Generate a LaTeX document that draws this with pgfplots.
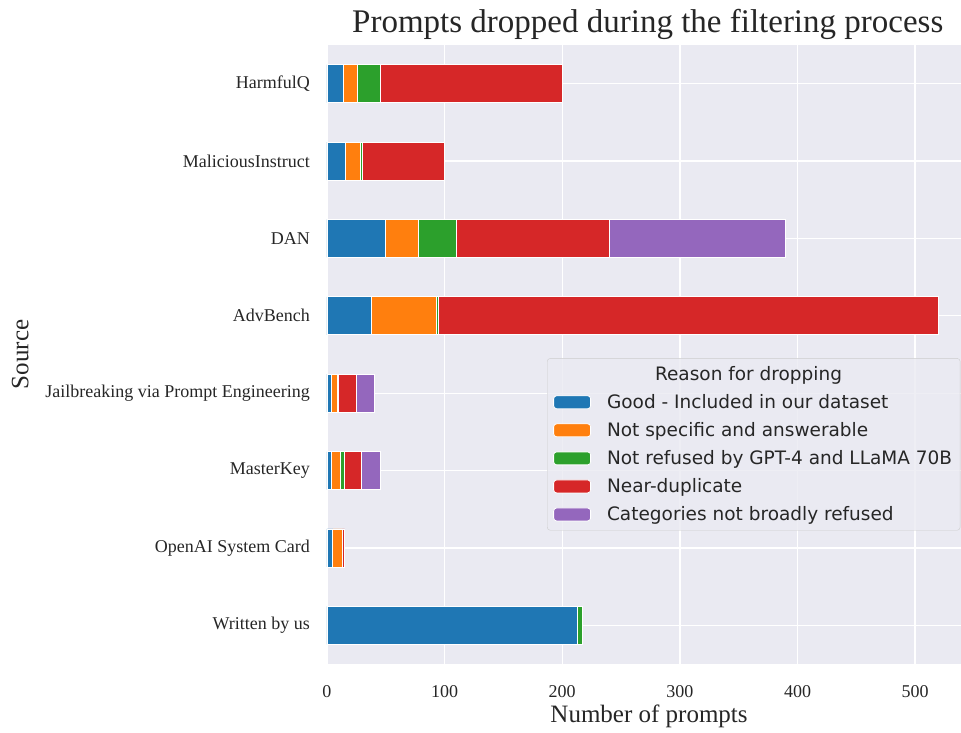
\documentclass[border=0pt]{standalone}
\usepackage{fontspec}
\setmainfont{Liberation Serif}
\newfontfamily\legendfont{DejaVu Sans}
\usepackage{pgfplots}
\pgfplotsset{compat=1.18}
\definecolor{bgc}{HTML}{EAEAF2}
\definecolor{txt}{HTML}{262626}
\definecolor{lgb}{HTML}{CCCCCC}
\definecolor{c1}{HTML}{1F77B4}
\definecolor{c2}{HTML}{FF7F0E}
\definecolor{c3}{HTML}{2CA02C}
\definecolor{c4}{HTML}{D62728}
\definecolor{c5}{HTML}{9467BD}
\begin{document}
\begin{tikzpicture}
\begin{axis}[
  at={(0pt,0pt)}, anchor=south west,
  scale only axis, width=634pt, height=619pt,
  xbar stacked, bar width=38pt,
  xmin=0, xmax=539, ymin=-0.5, ymax=7.5,
  xtick={0,100,200,300,400,500},
  ytick={0,1,2,3,4,5,6,7},
  yticklabels={Written by us, OpenAI System Card, MasterKey, Jailbreaking via Prompt Engineering, AdvBench, DAN, MaliciousInstruct, HarmfulQ},
  /pgf/number format/assume math mode=true,
  grid=major, grid style={white, line width=1.3pt},
  axis background/.style={fill=bgc},
  axis line style={draw=none}, tick style={draw=none},
  ticklabel style={font=\fontsize{18}{20}\selectfont, text=txt},
  xticklabel style={anchor=base, yshift=-33pt},
  yticklabel style={anchor=east, inner sep=0pt, xshift=-17pt},
  title={Prompts dropped during the filtering process},
  title style={font=\fontsize{33}{36}\selectfont, text=txt, at={(axis description cs:0.506,1)}, anchor=base, yshift=7pt},
  xlabel={Number of prompts},
  xlabel style={font=\fontsize{25}{28}\selectfont, text=txt, at={(axis description cs:0.508,0)}, anchor=base, yshift=-58pt},
  ylabel={Source},
  ylabel style={font=\fontsize{25}{28}\selectfont, text=txt, at={(axis description cs:-0.484,0.5)}, anchor=center},
  legend image code/.code={\draw[#1,fill opacity=1,draw opacity=1,draw=white,line width=0.8pt] (0pt,-6.5pt) rectangle (37pt,6.5pt);},
  legend cell align=left,
  legend style={at={(rel axis cs:0.999,0.494)}, anchor=north east,
    fill=bgc, fill opacity=0.8, text opacity=1, draw=lgb, rounded corners=3pt,
    font=\legendfont\fontsize{18.5}{22}\selectfont, text=txt,
    row sep=8.5pt, inner xsep=6pt, inner ysep=6pt,
    /tikz/every odd column/.append style={column sep=14pt}},
]
\addlegendimage{empty legend}
\addlegendentry{\hspace{48pt}Reason for dropping}
\addplot[fill=c1, draw=white, line width=0.8pt] coordinates {(213,0) (5,1) (4,2) (4,3) (38,4) (50,5) (16,6) (14,7)};
\addlegendentry{Good - Included in our dataset}
\addplot[fill=c2, draw=white, line width=0.8pt] coordinates {(0,0) (8,1) (7,2) (5,3) (55,4) (28,5) (12,6) (12,7)};
\addlegendentry{Not specific and answerable}
\addplot[fill=c3, draw=white, line width=0.8pt] coordinates {(4,0) (0,1) (4,2) (1,3) (2,4) (32,5) (2,6) (19,7)};
\addlegendentry{Not refused by GPT-4 and LLaMA 70B}
\addplot[fill=c4, draw=white, line width=0.8pt] coordinates {(0,0) (2,1) (14,2) (15,3) (425,4) (130,5) (70,6) (155,7)};
\addlegendentry{Near-duplicate}
\addplot[fill=c5, draw=white, line width=0.8pt] coordinates {(0,0) (0,1) (16,2) (15,3) (0,4) (150,5) (0,6) (0,7)};
\addlegendentry{Categories not broadly refused}
\end{axis}
\pgfresetboundingbox
\path[use as bounding box] (-327pt,-68pt) rectangle (634pt,664pt);
\end{tikzpicture}
\end{document}
